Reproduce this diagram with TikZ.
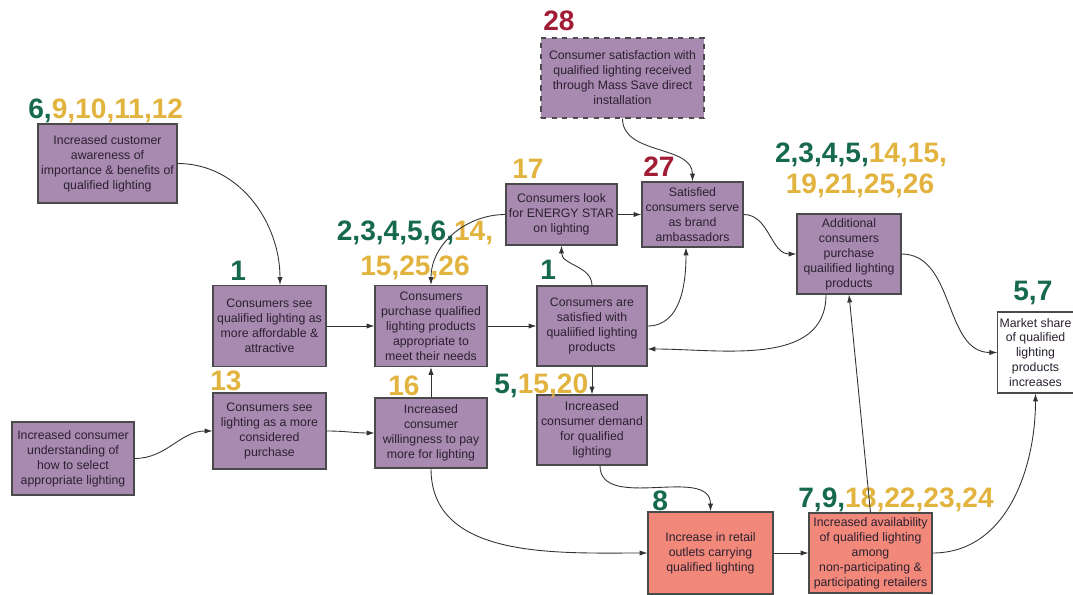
\documentclass[tikz,border=0pt]{standalone}
\usepackage{fontspec}
\setmainfont{Liberation Sans}
\usetikzlibrary{arrows.meta}
\definecolor{boxpurple}{HTML}{A88AB0}
\definecolor{boxsalmon}{HTML}{F2887A}
\definecolor{boxline}{HTML}{4A4A4A}
\definecolor{boxtext}{HTML}{2B2030}
\definecolor{linegray}{HTML}{333333}
\definecolor{numgreen}{HTML}{16684F}
\definecolor{numgold}{HTML}{E2B43F}
\definecolor{numred}{HTML}{A01D35}
\newcommand{\ngreen}[1]{\textcolor{numgreen}{#1}}
\newcommand{\ngold}[1]{\textcolor{numgold}{#1}}
\newcommand{\nred}[1]{\textcolor{numred}{#1}}
\begin{document}
\begin{tikzpicture}[x=0.02cm,y=-0.02cm,
    effect/.style={draw=boxline,line width=0.6pt,fill=boxpurple,align=center,inner sep=1pt,
        text=boxtext,font=\fontsize{7}{8.5}\selectfont},
    retail/.style={effect,fill=boxsalmon},
    outcome/.style={effect,fill=white},
    numlabel/.style={inner sep=0pt,anchor=base west,font=\fontsize{16}{19}\bfseries},
    link/.style={draw=linegray,line width=0.5pt,-{Latex[length=4.5pt,width=3pt]}}]
        \useasboundingbox (0,0) rectangle (1073,595);
        \node[effect,minimum width=2.78cm,minimum height=1.58cm] (aware) at (107.5,163.5)
            {Increased customer\\awareness of\\importance \& benefits of\\qualified lighting};
        \node[effect,minimum width=2.26cm,minimum height=1.62cm] (afford) at (269.5,326)
            {Consumers see\\qualified lighting as\\more affordable \&\\attractive};
        \node[effect,minimum width=2.26cm,minimum height=1.52cm] (consider) at (269.5,431)
            {Consumers see\\lighting as a more\\considered\\purchase};
        \node[effect,minimum width=2.44cm,minimum height=1.46cm] (underst) at (73,458.5)
            {Increased consumer\\understanding of\\how to select\\appropriate lighting};
        \node[effect,minimum width=2.24cm,minimum height=1.62cm] (purchase) at (431,326)
            {Consumers\\purchase qualified\\lighting products\\appropriate to\\meet their needs};
        \node[effect,minimum width=2.24cm,minimum height=1.40cm] (willing) at (431,433)
            {Increased\\consumer\\willingness to pay\\more for lighting};
        \node[effect,minimum width=2.22cm,minimum height=1.22cm] (estar) at (561.5,214.5)
            {Consumers look\\for ENERGY STAR\\on lighting};
        \node[effect,minimum width=2.20cm,minimum height=1.60cm] (satisf) at (592,326)
            {Consumers are\\satisfied with\\qualiified lighting\\products};
        \node[effect,minimum width=2.20cm,minimum height=1.40cm] (demand) at (592,430)
            {Increased\\consumer demand\\for qualified\\lighting};
        \node[effect,dashed,minimum width=3.26cm,minimum height=1.60cm] (direct) at (622.5,78)
            {Consumer satisfaction with\\qualified lighting received\\through Mass Save direct\\installation};
        \node[effect,minimum width=2.02cm,minimum height=1.30cm] (ambass) at (692.5,214.5)
            {Satisfied\\consumers serve\\as brand\\ambassadors};
        \node[effect,minimum width=2.08cm,minimum height=1.60cm] (addl) at (849,254)
            {Additional\\consumers\\purchase\\quailified lighting\\products};
        \node[outcome,minimum width=1.46cm,minimum height=1.62cm] (share) at (1035.5,352.5)
            {Market share\\of qualified\\lighting\\products\\increases};
        \node[retail,minimum width=2.50cm,minimum height=1.64cm] (outlets) at (710.5,553)
            {Increase in retail\\outlets carrying\\qualified lighting};
        \node[retail,minimum width=2.46cm,minimum height=1.60cm] (avail) at (870.5,553)
            {Increased availability\\of qualified lighting\\among\\non-participating \&\\participating retailers};

        \node[numlabel] (lbaware) at (28,118) {\ngreen{6,}\ngold{9,10,11,12}};
        \node[numlabel] (lbafford) at (230,280) {\ngreen{1}};
        \node[numlabel] (lbconsider) at (210,390) {\ngold{13}};
        \node[numlabel,anchor=base] (lbpurchasea) at (415,240) {\ngreen{2,3,4,5,6,}\ngold{14,}};
        \node[numlabel,anchor=base] (lbpurchaseb) at (415,275) {\ngold{15,25,26}};
        \node[numlabel] (lbestar) at (512,178) {\ngold{17}};
        \node[numlabel] (lbsatisf) at (540,279) {\ngreen{1}};
        \node[numlabel] (lbwilling) at (388,395) {\ngold{16}};
        \node[numlabel] (lbdemand) at (494,393) {\ngreen{5,}\ngold{15,20}};
        \node[numlabel] (lbdirect) at (543,31) {\nred{28}};
        \node[numlabel] (lbambass) at (643,176) {\nred{27}};
        \node[numlabel,anchor=base] (lbaddla) at (861,162) {\ngreen{2,3,4,5,}\ngold{14,15,}};
        \node[numlabel,anchor=base] (lbaddlb) at (860,193) {\ngold{19,21,25,26}};
        \node[numlabel] (lbshare) at (1013,300) {\ngreen{5,7}};
        \node[numlabel] (lboutlets) at (652,510) {\ngreen{8}};
        \node[numlabel] (lbavail) at (798,507) {\ngreen{7,9,}\ngold{18,22,23,24}};

        \draw[link] (aware.east) to[out=0,in=90] ([xshift=0.21cm]afford.north);
        \draw[link] (afford.east) -- (purchase.west);
        \draw[link] (underst.east) to[out=0,in=180] (consider.west);
        \draw[link] (consider.east) to[out=0,in=180] (willing.west);
        \draw[link] (willing.north) -- (purchase.south);
        \draw[link] (purchase.east) -- (satisf.west);
        \draw[link] (estar.west) to[out=180,in=90] (purchase.north);
        \draw[link] (satisf.north) to[out=90,in=-90] (estar.south);
        \draw[link] (estar.east) -- (ambass.west);
        \draw[link] (direct.south) to[out=-90,in=90] (ambass.north);
        \draw[link] (satisf.east) to[out=0,in=-90] ([xshift=-0.13cm]ambass.south);
        \draw[link] (ambass.east) to[out=0,in=180] (addl.west);
        \draw[link] ([xshift=-0.46cm]addl.south) to[out=-90,in=0] ([yshift=-0.46cm]satisf.east);
        \draw[link] (satisf.south) -- (demand.north);
        \draw[link] ([xshift=0.16cm]demand.south) to[out=-90,in=90] (outlets.north);
        \draw[link] (willing.south) to[out=-90,in=180] (outlets.west);
        \draw[link] (outlets.east) -- (avail.west);
        \draw[link] (avail.north) -- (addl.south);
        \draw[link] (addl.east) to[out=0,in=180] (share.west);
        \draw[link] (avail.east) to[out=0,in=-90] (share.south);
    \end{tikzpicture}
\end{document}
